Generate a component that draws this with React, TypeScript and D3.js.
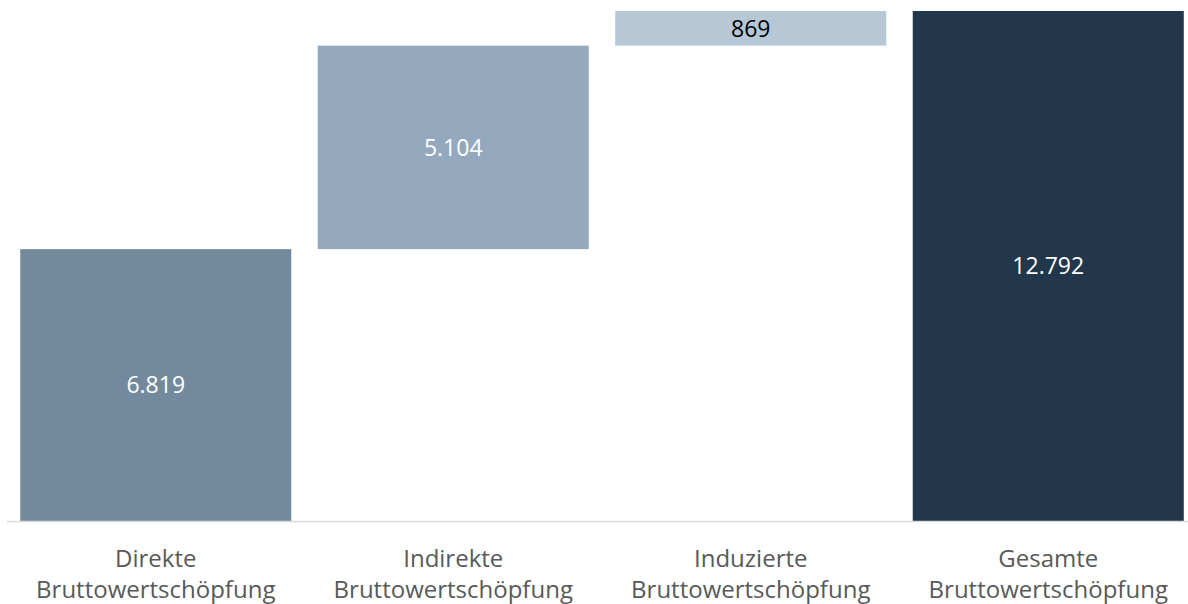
import React, { useEffect, useRef } from "react";
import * as d3 from "d3";

const categories = ["Direkte Bruttowertschöpfung", "Indirekte Bruttowertschöpfung", "Induzierte Bruttowertschöpfung", "Gesamte Bruttowertschöpfung"];
const values = [6819, 5104, 869, 12792];
const valueLabels = ["6.819", "5.104", "869", "12.792"];
const isTotal = [false, false, false, true];
const barColors = ["#738a9e", "#94a9bd", "#b6c8d6", "#22364c"];
const labelColors = ["#ffffff", "#ffffff", "#000000", "#ffffff"];

const App = () => {
  const ref = useRef<SVGSVGElement>(null);

  useEffect(() => {
    const svg = d3.select(ref.current);
    svg.selectAll("*").remove();

    const width = 1188;
    const height = 604;
    const baseline = 521;
    const font = "'Open Sans', 'Liberation Sans', sans-serif";

    // waterfall: running start/end for each step
    let running = 0;
    const steps = values.map((v, i) => {
      const start = isTotal[i] ? 0 : running;
      const end = isTotal[i] ? v : running + v;
      if (!isTotal[i]) running = end;
      return { cat: categories[i], start, end, label: valueLabels[i], i };
    });

    const x = d3.scaleBand<string>().domain(categories).range([7, 1197]).paddingInner(0.089).paddingOuter(0.0445);
    const y = d3.scaleLinear().domain([0, 12792]).range([baseline, 11]);

    svg.attr("width", width).attr("height", height);

    svg
      .append("g")
      .selectAll("rect")
      .data(steps)
      .join("rect")
      .attr("x", (d) => x(d.cat)!)
      .attr("width", x.bandwidth())
      .attr("y", (d) => y(d.end))
      .attr("height", (d) => y(d.start) - y(d.end))
      .attr("fill", (d) => barColors[d.i]);

    svg
      .append("g")
      .selectAll("text")
      .data(steps)
      .join("text")
      .attr("x", (d) => x(d.cat)! + x.bandwidth() / 2)
      .attr("y", (d) => (y(d.start) + y(d.end)) / 2)
      .attr("dy", "0.36em")
      .attr("text-anchor", "middle")
      .attr("font-family", font)
      .attr("font-size", 23)
      .attr("fill", (d) => labelColors[d.i])
      .text((d) => d.label);

    svg.append("line").attr("x1", 7).attr("x2", width).attr("y1", baseline + 0.5).attr("y2", baseline + 0.5).attr("stroke", "#d9d9d9").attr("stroke-width", 1.5);

    const cats = svg
      .append("g")
      .selectAll("text")
      .data(categories)
      .join("text")
      .attr("text-anchor", "middle")
      .attr("font-family", font)
      .attr("font-size", 24)
      .attr("fill", "#595959");
    cats.each(function (d) {
      const words = d.split(" ");
      const cx = x(d)! + x.bandwidth() / 2;
      words.forEach((w, k) => {
        d3.select(this)
          .append("tspan")
          .attr("x", cx)
          .attr("y", 567 + k * 31)
          .text(w);
      });
    });
  }, []);

  return <svg ref={ref} style={{ position: "absolute", left: 0, top: 0, display: "block" }}></svg>;
};

export default App;
